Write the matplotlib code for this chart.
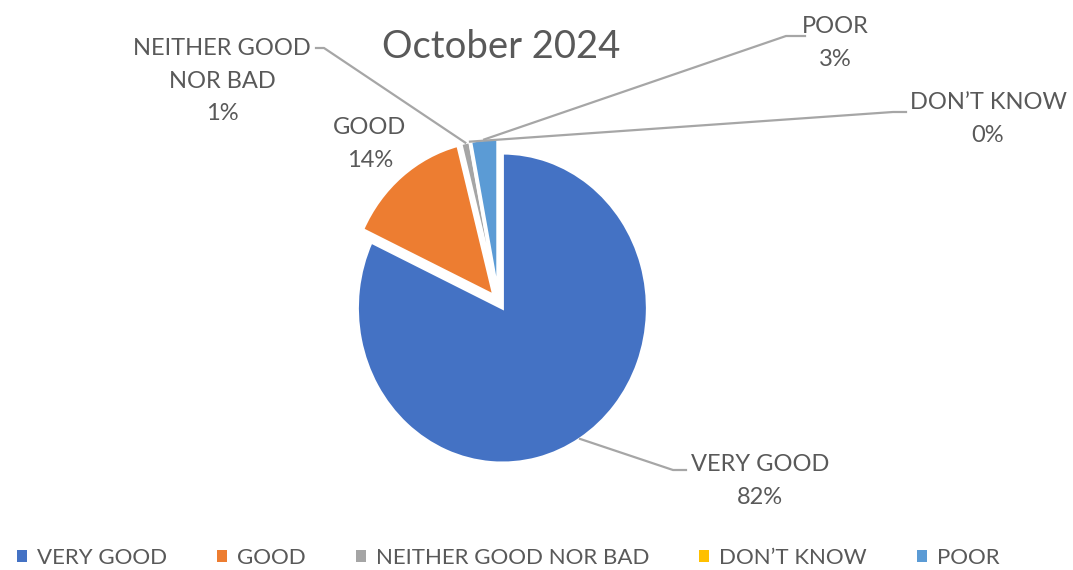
import numpy as np
import matplotlib
matplotlib.use("Agg")
import matplotlib.pyplot as plt
from matplotlib.patches import Rectangle

categories = ["VERY GOOD", "GOOD", "NEITHER GOOD NOR BAD", "DON\u2019T KNOW", "POOR"]
values = [82, 14, 1, 0, 3]
colors = ["#4472C4", "#ED7D31", "#A5A5A5", "#FFC000", "#5B9BD5"]
title = "October 2024"

W, H = 1073, 570
plt.rcParams["font.family"] = ["Lato", "DejaVu Sans"]
TXT = "#595959"
LINE = "#A6A6A6"

fig = plt.figure(figsize=(W / 100, H / 100), dpi=100)

# pie axes: radius 1 -> 145 px wide, 155 px tall
cx, cy = 498.5, 301.5
rx, ry = 145, 155
aw, ah = 2.5 * rx, 2.5 * ry
ax = fig.add_axes([(cx - aw / 2) / W, 1 - (cy + ah / 2) / H, aw / W, ah / H])

wedges, _ = ax.pie(values, colors=colors, startangle=90, counterclock=False,
                   explode=[0.05] * len(values),
                   wedgeprops=dict(edgecolor="white", linewidth=2.2))
ax.set_aspect("auto")
ax.set_xlim(-1.25, 1.25)
ax.set_ylim(-1.25, 1.25)
ax.axis("off")


def fx(px):
    return px / W


def fy(py):
    return 1 - py / H


def anchor(w, r=1.0):
    ang = np.deg2rad((w.theta1 + w.theta2) / 2)
    x = w.center[0] + r * w.r * np.cos(ang)
    y = w.center[1] + r * w.r * np.sin(ang)
    dx, dy = ax.transData.transform((x, y))
    return dx / W, dy / H


fig.text(fx(501), fy(47), title, ha="center", va="center", fontsize=27.5, color=TXT)

# label layout: (text center px, knee points px)
layout = {
    0: dict(pos=(760, 481), knee=[(686, 470), (673, 470)]),
    1: dict(pos=(370, 144), knee=None),
    2: dict(pos=(222, 81), knee=[(316, 48), (324, 48)]),
    3: dict(pos=(988, 119), knee=[(906, 112), (893, 112)]),
    4: dict(pos=(835, 43), knee=[(805, 36), (786, 36)]),
}
label_text = {
    2: "NEITHER GOOD\nNOR BAD",
}
for i, (cat, v) in enumerate(zip(categories, values)):
    L = layout[i]
    name = label_text.get(i, cat)
    fig.text(fx(L["pos"][0]), fy(L["pos"][1]), f"{name}\n{v}%", ha="center", va="center",
             fontsize=17, color=TXT, linespacing=1.65)
    if L["knee"] is not None:
        ax_pt = anchor(wedges[i])
        xs = [fx(p[0]) for p in L["knee"]] + [ax_pt[0]]
        ys = [fy(p[1]) for p in L["knee"]] + [ax_pt[1]]
        fig.add_artist(plt.Line2D(xs, ys, transform=fig.transFigure, color=LINE, lw=1.6))

handles = [Rectangle((0, 0), 1, 1, facecolor=c, edgecolor="none") for c in colors]
fig.legend(handles, categories, loc="center", bbox_to_anchor=(fx(508), fy(558)), ncol=5,
           frameon=False, fontsize=16, handlelength=0.45, handleheight=0.45,
           handletextpad=0.45, columnspacing=2.25, labelcolor=TXT)

fig.savefig("out.png", dpi=100)
